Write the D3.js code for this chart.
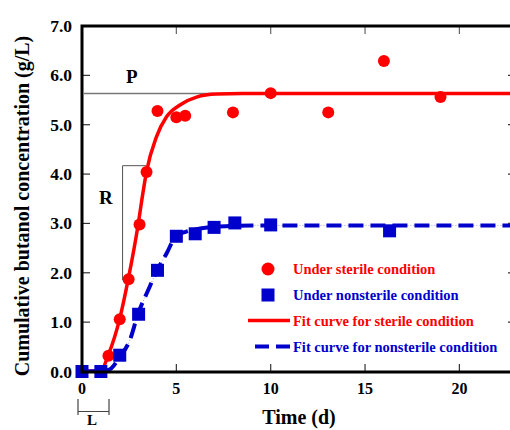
<!DOCTYPE html>
<html><head><meta charset="utf-8">
<script src="https://cdn.jsdelivr.net/npm/d3@7"></script>
<style>body{margin:0;background:#fff}svg{display:block}text{font-family:"Liberation Serif","Times New Roman",serif;font-weight:bold}</style>
</head><body><svg id="c" width="510" height="430"></svg>
<script>
// Measured data (time in days, butanol g/L)
const sterileT = [1.4, 2.0, 2.47, 3.05, 3.42, 4.0, 5.0, 5.47, 8.0, 10.0, 13.05, 16.0, 19.0];
const sterileY = [0.32, 1.06, 1.87, 2.98, 4.04, 5.28, 5.15, 5.18, 5.25, 5.64, 5.25, 6.29, 5.56];
const nonsterileT = [0, 1.0, 2.0, 3.0, 4.0, 5.0, 6.0, 7.0, 8.1, 10.0, 16.3];
const nonsterileY = [0.0, 0.0, 0.33, 1.16, 2.05, 2.74, 2.79, 2.92, 3.01, 2.97, 2.85];
// Fit curves
const fitSterileT = [0, 1.0, 1.39, 2.0, 2.45, 2.98, 3.16, 3.42, 3.95, 4.48, 5.19, 6.07, 7.13, 8.5, 23];
const fitSterileY = [0, 0.02, 0.33, 1.07, 1.87, 2.99, 3.45, 4.05, 4.76, 5.16, 5.40, 5.56, 5.62, 5.63, 5.63];
const fitNonT = [0, 1.39, 2.01, 2.54, 2.98, 3.51, 3.98, 4.48, 5.01, 5.5, 6.0, 7.0, 8.0, 9.0, 23];
const fitNonY = [0, 0.03, 0.30, 0.64, 1.18, 1.65, 2.05, 2.39, 2.76, 2.83, 2.88, 2.93, 2.95, 2.96, 2.96];
const xTicks = [0, 5, 10, 15, 20];
const yTicks = [0, 1, 2, 3, 4, 5, 6, 7];
const legendLabels = ["Under sterile condition", "Under nonsterile condition", "Fit curve for sterile condition", "Fit curve for nonsterile condition"];
const plateauP = 5.63;

const RED = "#ff0000", BLUE = "#0000cc";
const svg = d3.select("#c");
const x = d3.scaleLinear().domain([0, 23]).range([82, 516]);
const y = d3.scaleLinear().domain([0, 7]).range([371.5, 26]);

// annotations
svg.append("line").attr("x1", x(0) + 2).attr("x2", x(7)).attr("y1", y(plateauP)).attr("y2", y(plateauP))
  .attr("stroke", "#777").attr("stroke-width", 1.5);
// R slope marker
svg.append("path").attr("d", `M${x(2.15)},${y(1.85)}V${y(4.17)}H${x(3.42)}`)
  .attr("fill", "none").attr("stroke", "#555").attr("stroke-width", 1);
svg.append("text").attr("x", 126).attr("y", 83).attr("font-size", 19).text("P");
svg.append("text").attr("x", 99).attr("y", 204).attr("font-size", 19).text("R");
// lag bracket
svg.append("path").attr("d", "M78,399V415M78,411.5H109M109,399V415")
  .attr("fill", "none").attr("stroke", "#444").attr("stroke-width", 1.2);
svg.append("text").attr("x", 87).attr("y", 425).attr("font-size", 15).text("L");

// fit curves
const line = d3.line().x(d => x(d[0])).y(d => y(d[1])).curve(d3.curveMonotoneX);
const fs = fitSterileT.map((t, i) => [t, fitSterileY[i]]);
const fn = fitNonT.map((t, i) => [t, fitNonY[i]]);
svg.append("clipPath").attr("id", "pc").append("rect").attr("x", 82).attr("y", 26).attr("width", 434).attr("height", 346);
svg.append("path").attr("d", line(fn)).attr("fill", "none").attr("stroke", "#9a9af0").attr("stroke-width", 1).attr("stroke-dasharray", "1,2").attr("clip-path", "url(#pc)");
svg.append("path").attr("d", line(fs)).attr("fill", "none").attr("stroke", RED).attr("stroke-width", 3.5).attr("clip-path", "url(#pc)");
svg.append("path").attr("d", line(fn)).attr("fill", "none").attr("stroke", BLUE).attr("stroke-width", 4).attr("stroke-dasharray", "15,7").attr("clip-path", "url(#pc)");

// points
svg.selectAll("circle.s").data(sterileT.map((t, i) => [t, sterileY[i]])).join("circle")
  .attr("cx", d => x(d[0])).attr("cy", d => y(d[1])).attr("r", 6).attr("fill", RED);
svg.selectAll("rect.n").data(nonsterileT.map((t, i) => [t, nonsterileY[i]])).join("rect")
  .attr("x", d => x(d[0]) - 6.5).attr("y", d => y(d[1]) - 6.5).attr("width", 13).attr("height", 13).attr("fill", BLUE);

// axes
const ax = svg.append("g");
ax.selectAll("line.yt").data(yTicks.slice(1, -1)).join("line")
  .attr("x1", 82).attr("x2", 90).attr("y1", d => y(d)).attr("y2", d => y(d)).attr("stroke", "#333").attr("stroke-width", 1.2);
ax.selectAll("line.yr").data(yTicks.slice(1, -1)).join("line")
  .attr("x1", 508).attr("x2", 516).attr("y1", d => y(d)).attr("y2", d => y(d)).attr("stroke", "#333").attr("stroke-width", 1.2);
ax.selectAll("line.xt").data(xTicks.slice(1)).join("line")
  .attr("x1", d => x(d)).attr("x2", d => x(d)).attr("y1", 364).attr("y2", 372).attr("stroke", "#333").attr("stroke-width", 1.2);
ax.selectAll("line.xtt").data(xTicks.slice(1)).join("line")
  .attr("x1", d => x(d)).attr("x2", d => x(d)).attr("y1", 26).attr("y2", 34).attr("stroke", "#666").attr("stroke-width", 1.2);
ax.append("path").attr("d", "M516,26H82V372H516").attr("fill", "none").attr("stroke", "#000").attr("stroke-width", 3);

ax.selectAll("text.yl").data(yTicks).join("text")
  .attr("x", 72).attr("y", d => y(d) + 6).attr("text-anchor", "end").attr("font-size", 17.5).text(d => d.toFixed(1));
ax.selectAll("text.xl").data(xTicks).join("text")
  .attr("x", d => x(d)).attr("y", 394).attr("text-anchor", "middle").attr("font-size", 16).text(d => d);

svg.append("text").attr("transform", "translate(29,206) rotate(-90)").attr("text-anchor", "middle").attr("font-size", 20)
  .text("Cumulative butanol concentration (g/L)");
svg.append("text").attr("x", 299).attr("y", 424).attr("text-anchor", "middle").attr("font-size", 20).text("Time (d)");

// legend
const lg = svg.append("g");
const ly = [269, 295, 320.5, 346.5];
const lcol = [RED, BLUE, RED, BLUE];
lg.append("circle").attr("cx", 268).attr("cy", ly[0]).attr("r", 6.5).attr("fill", RED);
lg.append("rect").attr("x", 261.5).attr("y", ly[1] - 6.5).attr("width", 13).attr("height", 13).attr("fill", BLUE);
lg.append("line").attr("x1", 248).attr("x2", 290).attr("y1", ly[2]).attr("y2", ly[2]).attr("stroke", RED).attr("stroke-width", 3.5);
lg.append("line").attr("x1", 255).attr("x2", 290).attr("y1", ly[3]).attr("y2", ly[3]).attr("stroke", BLUE).attr("stroke-width", 4).attr("stroke-dasharray", "14,7");
lg.selectAll("text").data(legendLabels).join("text")
  .attr("x", 293).attr("y", (d, i) => ly[i] + 5).attr("font-size", 14.5).attr("fill", (d, i) => lcol[i]).text(d => d);
</script></body></html>
